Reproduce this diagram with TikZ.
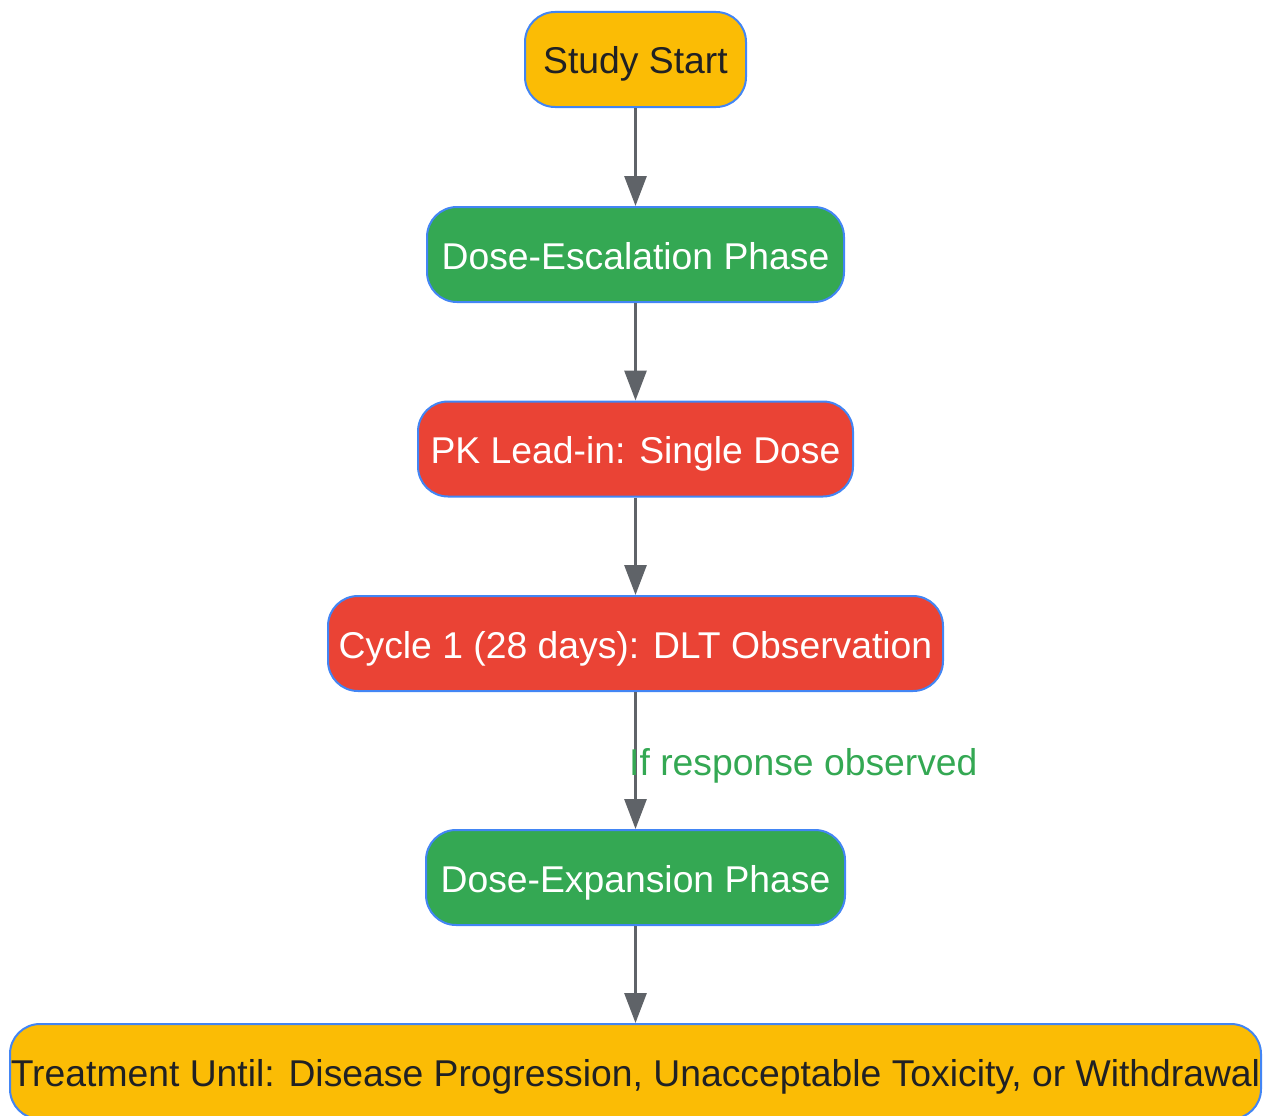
\documentclass[tikz,border=0pt]{standalone}
\usepackage{fontspec}
\setmainfont{Liberation Sans}
\usetikzlibrary{arrows.meta}
\definecolor{gyellow}{HTML}{FBBC05}
\definecolor{ggreen}{HTML}{34A853}
\definecolor{gred}{HTML}{EA4335}
\definecolor{gblue}{HTML}{4285F4}
\definecolor{ggray}{HTML}{5F6368}
\definecolor{gtext}{HTML}{202124}
\tikzset{
  box/.style={draw=gblue, line width=2pt, rounded corners=30pt, minimum height=95pt, inner sep=0pt,
    text height=29pt, text depth=0pt, font=\fontsize{37.3}{44}\selectfont},
  ybox/.style={box, fill=gyellow, text=gtext},
  gbox/.style={box, fill=ggreen, text=white},
  rbox/.style={box, fill=gred, text=white},
  conn/.style={draw=ggray, line width=3pt, -{Triangle[length=30pt,width=22pt]}},
  lbl/.style={text=ggreen, font=\fontsize{37.3}{44}\selectfont, inner sep=0pt, anchor=west}
}
\begin{document}
\begin{tikzpicture}[x=1pt,y=-1pt]
\useasboundingbox (0,0) rectangle (1264,1116);
\node[ybox, minimum width=221pt] (start) at (635.5,59.5) {Study Start};
\node[gbox, minimum width=417pt] (esc) at (635.5,254.5) {Dose-Escalation Phase};
\node[rbox, minimum width=435pt] (pk) at (635.5,449) {PK Lead-in: Single Dose};
\node[rbox, minimum width=615pt] (cyc) at (635.5,643.5) {Cycle 1 (28 days): DLT Observation};
\node[gbox, minimum width=419pt] (exp) at (635.5,877.5) {Dose-Expansion Phase};
\node[ybox, minimum width=1251pt] (treat) at (635.5,1071.5) {Treatment Until: Disease Progression, Unacceptable Toxicity, or Withdrawal};
\draw[conn] (start) -- (esc);
\draw[conn] (esc) -- (pk);
\draw[conn] (pk) -- (cyc);
\draw[conn] (cyc) -- (exp);
\draw[conn] (exp) -- (treat);
\node[lbl] (resp) at (629,766) {If response observed};
\end{tikzpicture}
\end{document}
